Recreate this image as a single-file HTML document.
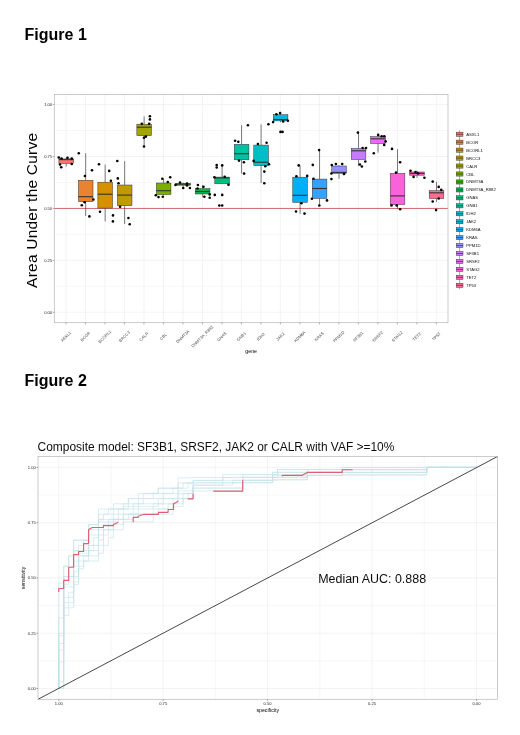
<!DOCTYPE html><html><head><meta charset="utf-8"><style>html,body{margin:0;padding:0;background:#fff;}svg{display:block;will-change:transform;}text{font-family:"Liberation Sans",sans-serif;}</style></head><body>
<svg width="520" height="735" viewBox="0 0 520 735">
<rect width="520" height="735" fill="#fff"/>
<text x="24.6" y="39.5" font-size="16" font-weight="bold" fill="#000">Figure 1</text>
<text x="24.6" y="385.7" font-size="16" font-weight="bold" fill="#000">Figure 2</text>
<line x1="54.3" x2="448.0" y1="312.30" y2="312.30" stroke="#ebebeb" stroke-width="0.6"/><line x1="54.3" x2="448.0" y1="260.38" y2="260.38" stroke="#ebebeb" stroke-width="0.6"/><line x1="54.3" x2="448.0" y1="208.45" y2="208.45" stroke="#ebebeb" stroke-width="0.6"/><line x1="54.3" x2="448.0" y1="156.53" y2="156.53" stroke="#ebebeb" stroke-width="0.6"/><line x1="54.3" x2="448.0" y1="104.60" y2="104.60" stroke="#ebebeb" stroke-width="0.6"/><line x1="54.3" x2="448.0" y1="286.34" y2="286.34" stroke="#efefef" stroke-width="0.5"/><line x1="54.3" x2="448.0" y1="234.41" y2="234.41" stroke="#efefef" stroke-width="0.5"/><line x1="54.3" x2="448.0" y1="182.49" y2="182.49" stroke="#efefef" stroke-width="0.5"/><line x1="54.3" x2="448.0" y1="130.56" y2="130.56" stroke="#efefef" stroke-width="0.5"/><line x1="65.99" x2="65.99" y1="94.5" y2="322.7" stroke="#ebebeb" stroke-width="0.6"/><line x1="85.48" x2="85.48" y1="94.5" y2="322.7" stroke="#ebebeb" stroke-width="0.6"/><line x1="104.97" x2="104.97" y1="94.5" y2="322.7" stroke="#ebebeb" stroke-width="0.6"/><line x1="124.46" x2="124.46" y1="94.5" y2="322.7" stroke="#ebebeb" stroke-width="0.6"/><line x1="143.95" x2="143.95" y1="94.5" y2="322.7" stroke="#ebebeb" stroke-width="0.6"/><line x1="163.44" x2="163.44" y1="94.5" y2="322.7" stroke="#ebebeb" stroke-width="0.6"/><line x1="182.93" x2="182.93" y1="94.5" y2="322.7" stroke="#ebebeb" stroke-width="0.6"/><line x1="202.42" x2="202.42" y1="94.5" y2="322.7" stroke="#ebebeb" stroke-width="0.6"/><line x1="221.91" x2="221.91" y1="94.5" y2="322.7" stroke="#ebebeb" stroke-width="0.6"/><line x1="241.40" x2="241.40" y1="94.5" y2="322.7" stroke="#ebebeb" stroke-width="0.6"/><line x1="260.90" x2="260.90" y1="94.5" y2="322.7" stroke="#ebebeb" stroke-width="0.6"/><line x1="280.39" x2="280.39" y1="94.5" y2="322.7" stroke="#ebebeb" stroke-width="0.6"/><line x1="299.88" x2="299.88" y1="94.5" y2="322.7" stroke="#ebebeb" stroke-width="0.6"/><line x1="319.37" x2="319.37" y1="94.5" y2="322.7" stroke="#ebebeb" stroke-width="0.6"/><line x1="338.86" x2="338.86" y1="94.5" y2="322.7" stroke="#ebebeb" stroke-width="0.6"/><line x1="358.35" x2="358.35" y1="94.5" y2="322.7" stroke="#ebebeb" stroke-width="0.6"/><line x1="377.84" x2="377.84" y1="94.5" y2="322.7" stroke="#ebebeb" stroke-width="0.6"/><line x1="397.33" x2="397.33" y1="94.5" y2="322.7" stroke="#ebebeb" stroke-width="0.6"/><line x1="416.82" x2="416.82" y1="94.5" y2="322.7" stroke="#ebebeb" stroke-width="0.6"/><line x1="436.31" x2="436.31" y1="94.5" y2="322.7" stroke="#ebebeb" stroke-width="0.6"/>
<line x1="54.3" x2="448.0" y1="208.45" y2="208.45" stroke="#d25a5a" stroke-width="0.9"/>
<line x1="66.19" x2="66.19" y1="157.6" y2="158.9" stroke="#333" stroke-width="0.65"/><line x1="66.19" x2="66.19" y1="163.4" y2="166.5" stroke="#333" stroke-width="0.65"/><rect x="58.89" y="158.9" width="14.62" height="4.50" fill="#F8766D" stroke="#333" stroke-width="0.5"/><line x1="58.89" x2="73.50" y1="159.6" y2="159.6" stroke="#333" stroke-width="1.1"/><circle cx="58.75" cy="157.5" r="1.3" fill="#000"/><circle cx="67.5" cy="157.75" r="1.3" fill="#000"/><circle cx="71.75" cy="158.5" r="1.3" fill="#000"/><circle cx="60" cy="164.5" r="1.3" fill="#000"/><circle cx="61.25" cy="167.25" r="1.3" fill="#000"/><circle cx="71.75" cy="164" r="1.3" fill="#000"/><circle cx="61.5" cy="158.5" r="1.3" fill="#000"/>
<line x1="85.68" x2="85.68" y1="153.2" y2="180.3" stroke="#333" stroke-width="0.65"/><line x1="85.68" x2="85.68" y1="201.7" y2="216.0" stroke="#333" stroke-width="0.65"/><rect x="78.38" y="180.3" width="14.62" height="21.40" fill="#EA8331" stroke="#333" stroke-width="0.5"/><line x1="78.38" x2="92.99" y1="196.7" y2="196.7" stroke="#333" stroke-width="1.1"/><circle cx="78.8" cy="153.2" r="1.3" fill="#000"/><circle cx="84.9" cy="176" r="1.3" fill="#000"/><circle cx="92" cy="170.3" r="1.3" fill="#000"/><circle cx="93.4" cy="199.5" r="1.3" fill="#000"/><circle cx="84.6" cy="202.3" r="1.3" fill="#000"/><circle cx="81.8" cy="205.3" r="1.3" fill="#000"/><circle cx="89.4" cy="216.4" r="1.3" fill="#000"/>
<line x1="105.17" x2="105.17" y1="164.5" y2="182.2" stroke="#333" stroke-width="0.65"/><line x1="105.17" x2="105.17" y1="208.1" y2="221.4" stroke="#333" stroke-width="0.65"/><rect x="97.87" y="182.2" width="14.62" height="25.90" fill="#D89000" stroke="#333" stroke-width="0.5"/><line x1="97.87" x2="112.48" y1="194.2" y2="194.2" stroke="#333" stroke-width="1.1"/><circle cx="99" cy="164.3" r="1.3" fill="#000"/><circle cx="109.2" cy="170.9" r="1.3" fill="#000"/><circle cx="110.9" cy="180.7" r="1.3" fill="#000"/><circle cx="100" cy="211.8" r="1.3" fill="#000"/><circle cx="113" cy="215.4" r="1.3" fill="#000"/><circle cx="112.9" cy="221.4" r="1.3" fill="#000"/>
<line x1="124.66" x2="124.66" y1="161.2" y2="185.0" stroke="#333" stroke-width="0.65"/><line x1="124.66" x2="124.66" y1="205.7" y2="224.0" stroke="#333" stroke-width="0.65"/><rect x="117.36" y="185.0" width="14.62" height="20.70" fill="#C09B00" stroke="#333" stroke-width="0.5"/><line x1="117.36" x2="131.97" y1="195.1" y2="195.1" stroke="#333" stroke-width="1.1"/><circle cx="117.3" cy="161" r="1.3" fill="#000"/><circle cx="117.8" cy="178.4" r="1.3" fill="#000"/><circle cx="118.5" cy="183.3" r="1.3" fill="#000"/><circle cx="120.1" cy="206.8" r="1.3" fill="#000"/><circle cx="128.4" cy="218" r="1.3" fill="#000"/><circle cx="129.7" cy="224.3" r="1.3" fill="#000"/>
<line x1="144.15" x2="144.15" y1="116.4" y2="124.2" stroke="#333" stroke-width="0.65"/><line x1="144.15" x2="144.15" y1="135.7" y2="146.5" stroke="#333" stroke-width="0.65"/><rect x="136.85" y="124.2" width="14.62" height="11.50" fill="#A3A500" stroke="#333" stroke-width="0.5"/><line x1="136.85" x2="151.46" y1="127.2" y2="127.2" stroke="#333" stroke-width="1.1"/><circle cx="149.9" cy="116.2" r="1.3" fill="#000"/><circle cx="149.9" cy="119.4" r="1.3" fill="#000"/><circle cx="141.8" cy="123.8" r="1.3" fill="#000"/><circle cx="149.2" cy="123.8" r="1.3" fill="#000"/><circle cx="144" cy="137.7" r="1.3" fill="#000"/><circle cx="145.9" cy="136.6" r="1.3" fill="#000"/><circle cx="144" cy="146.5" r="1.3" fill="#000"/>
<line x1="163.64" x2="163.64" y1="178.8" y2="183.0" stroke="#333" stroke-width="0.65"/><line x1="163.64" x2="163.64" y1="194.5" y2="195.2" stroke="#333" stroke-width="0.65"/><rect x="156.34" y="183.0" width="14.62" height="11.50" fill="#7CAE00" stroke="#333" stroke-width="0.5"/><line x1="156.34" x2="170.95" y1="190.7" y2="190.7" stroke="#333" stroke-width="1.1"/><circle cx="162.3" cy="178.8" r="1.3" fill="#000"/><circle cx="170.2" cy="177.2" r="1.3" fill="#000"/><circle cx="167.8" cy="182" r="1.3" fill="#000"/><circle cx="155.8" cy="195.2" r="1.3" fill="#000"/><circle cx="158.5" cy="197.1" r="1.3" fill="#000"/><circle cx="162.8" cy="196.7" r="1.3" fill="#000"/>
<line x1="183.13" x2="183.13" y1="182.5" y2="183.4" stroke="#333" stroke-width="0.65"/><line x1="183.13" x2="183.13" y1="185.2" y2="188.0" stroke="#333" stroke-width="0.65"/><rect x="175.83" y="183.4" width="14.62" height="1.80" fill="#39B600" stroke="#333" stroke-width="0.5"/><line x1="175.83" x2="190.44" y1="184.2" y2="184.2" stroke="#333" stroke-width="1.1"/><circle cx="175.5" cy="184.9" r="1.3" fill="#000"/><circle cx="180" cy="182.5" r="1.3" fill="#000"/><circle cx="183.2" cy="188" r="1.3" fill="#000"/><circle cx="187" cy="183.5" r="1.3" fill="#000"/><circle cx="187" cy="185.4" r="1.3" fill="#000"/><circle cx="189.9" cy="188" r="1.3" fill="#000"/>
<line x1="202.62" x2="202.62" y1="185.0" y2="188.7" stroke="#333" stroke-width="0.65"/><line x1="202.62" x2="202.62" y1="194.0" y2="197.3" stroke="#333" stroke-width="0.65"/><rect x="195.32" y="188.7" width="14.62" height="5.30" fill="#00BB4E" stroke="#333" stroke-width="0.5"/><line x1="195.32" x2="209.93" y1="191.5" y2="191.5" stroke="#333" stroke-width="1.1"/><circle cx="197.9" cy="185" r="1.3" fill="#000"/><circle cx="203.5" cy="186.7" r="1.3" fill="#000"/><circle cx="197.5" cy="188.5" r="1.3" fill="#000"/><circle cx="209.7" cy="194.4" r="1.3" fill="#000"/><circle cx="204.4" cy="196.8" r="1.3" fill="#000"/><circle cx="209.7" cy="197.8" r="1.3" fill="#000"/>
<line x1="222.11" x2="222.11" y1="165.4" y2="177.1" stroke="#333" stroke-width="0.65"/><line x1="222.11" x2="222.11" y1="183.8" y2="183.8" stroke="#333" stroke-width="0.65"/><rect x="214.81" y="177.1" width="14.62" height="6.70" fill="#00BF7D" stroke="#333" stroke-width="0.5"/><line x1="214.81" x2="229.42" y1="177.9" y2="177.9" stroke="#333" stroke-width="1.1"/><circle cx="216.7" cy="165.1" r="1.3" fill="#000"/><circle cx="216.7" cy="167.5" r="1.3" fill="#000"/><circle cx="222.2" cy="165.4" r="1.3" fill="#000"/><circle cx="228.5" cy="184.8" r="1.3" fill="#000"/><circle cx="214.8" cy="194.9" r="1.3" fill="#000"/><circle cx="222.2" cy="194.9" r="1.3" fill="#000"/><circle cx="219.3" cy="205.5" r="1.3" fill="#000"/><circle cx="222.2" cy="205.5" r="1.3" fill="#000"/><circle cx="214.4" cy="177.3" r="1.3" fill="#000"/><circle cx="224.7" cy="176.7" r="1.3" fill="#000"/>
<line x1="241.60" x2="241.60" y1="125.2" y2="144.3" stroke="#333" stroke-width="0.65"/><line x1="241.60" x2="241.60" y1="159.8" y2="173.6" stroke="#333" stroke-width="0.65"/><rect x="234.30" y="144.3" width="14.62" height="15.50" fill="#00C1A3" stroke="#333" stroke-width="0.5"/><line x1="234.30" x2="248.91" y1="153.7" y2="153.7" stroke="#333" stroke-width="1.1"/><circle cx="247.9" cy="125.2" r="1.3" fill="#000"/><circle cx="235.1" cy="140.7" r="1.3" fill="#000"/><circle cx="238.3" cy="141.7" r="1.3" fill="#000"/><circle cx="239" cy="160.6" r="1.3" fill="#000"/><circle cx="243.9" cy="162.2" r="1.3" fill="#000"/><circle cx="244.1" cy="173.6" r="1.3" fill="#000"/>
<line x1="261.10" x2="261.10" y1="124.5" y2="145.1" stroke="#333" stroke-width="0.65"/><line x1="261.10" x2="261.10" y1="165.6" y2="183.1" stroke="#333" stroke-width="0.65"/><rect x="253.79" y="145.1" width="14.62" height="20.50" fill="#00BFC4" stroke="#333" stroke-width="0.5"/><line x1="253.79" x2="268.40" y1="162.2" y2="162.2" stroke="#333" stroke-width="1.1"/><circle cx="268.4" cy="124.2" r="1.3" fill="#000"/><circle cx="257.9" cy="144" r="1.3" fill="#000"/><circle cx="266.6" cy="142.7" r="1.3" fill="#000"/><circle cx="253.6" cy="160.9" r="1.3" fill="#000"/><circle cx="269" cy="164.2" r="1.3" fill="#000"/><circle cx="265.3" cy="166.2" r="1.3" fill="#000"/><circle cx="264.3" cy="171.6" r="1.3" fill="#000"/><circle cx="264.3" cy="183.3" r="1.3" fill="#000"/>
<line x1="280.59" x2="280.59" y1="113.1" y2="114.7" stroke="#333" stroke-width="0.65"/><line x1="280.59" x2="280.59" y1="120.9" y2="122.1" stroke="#333" stroke-width="0.65"/><rect x="273.28" y="114.7" width="14.62" height="6.20" fill="#00BAE0" stroke="#333" stroke-width="0.5"/><line x1="273.28" x2="287.89" y1="119.5" y2="119.5" stroke="#333" stroke-width="1.1"/><circle cx="276.4" cy="114.2" r="1.3" fill="#000"/><circle cx="280.1" cy="113.1" r="1.3" fill="#000"/><circle cx="273.1" cy="122.1" r="1.3" fill="#000"/><circle cx="283.2" cy="121.4" r="1.3" fill="#000"/><circle cx="287.9" cy="120.7" r="1.3" fill="#000"/><circle cx="280.5" cy="131.9" r="1.3" fill="#000"/><circle cx="282.5" cy="131.9" r="1.3" fill="#000"/>
<line x1="300.08" x2="300.08" y1="165.4" y2="177.2" stroke="#333" stroke-width="0.65"/><line x1="300.08" x2="300.08" y1="202.4" y2="213.8" stroke="#333" stroke-width="0.65"/><rect x="292.77" y="177.2" width="14.62" height="25.20" fill="#00B0F6" stroke="#333" stroke-width="0.5"/><line x1="292.77" x2="307.38" y1="195.3" y2="195.3" stroke="#333" stroke-width="1.1"/><circle cx="298.7" cy="165.4" r="1.3" fill="#000"/><circle cx="296.4" cy="176.2" r="1.3" fill="#000"/><circle cx="307.2" cy="175.9" r="1.3" fill="#000"/><circle cx="301.4" cy="203.3" r="1.3" fill="#000"/><circle cx="296" cy="211.5" r="1.3" fill="#000"/><circle cx="304.5" cy="213.6" r="1.3" fill="#000"/>
<line x1="319.57" x2="319.57" y1="150.1" y2="179.1" stroke="#333" stroke-width="0.65"/><line x1="319.57" x2="319.57" y1="198.4" y2="205.5" stroke="#333" stroke-width="0.65"/><rect x="312.26" y="179.1" width="14.62" height="19.30" fill="#35A2FF" stroke="#333" stroke-width="0.5"/><line x1="312.26" x2="326.87" y1="188.5" y2="188.5" stroke="#333" stroke-width="1.1"/><circle cx="319.1" cy="150.1" r="1.3" fill="#000"/><circle cx="312.8" cy="164.9" r="1.3" fill="#000"/><circle cx="313.5" cy="178.8" r="1.3" fill="#000"/><circle cx="311.9" cy="198.8" r="1.3" fill="#000"/><circle cx="327" cy="200.4" r="1.3" fill="#000"/><circle cx="319.3" cy="205.5" r="1.3" fill="#000"/>
<line x1="339.06" x2="339.06" y1="165.0" y2="166.0" stroke="#333" stroke-width="0.65"/><line x1="339.06" x2="339.06" y1="173.5" y2="178.8" stroke="#333" stroke-width="0.65"/><rect x="331.75" y="166.0" width="14.62" height="7.50" fill="#9590FF" stroke="#333" stroke-width="0.5"/><line x1="331.75" x2="346.36" y1="172.4" y2="172.4" stroke="#333" stroke-width="1.1"/><circle cx="331.8" cy="165" r="1.3" fill="#000"/><circle cx="335.9" cy="164" r="1.3" fill="#000"/><circle cx="342.2" cy="164" r="1.3" fill="#000"/><circle cx="331.4" cy="173.5" r="1.3" fill="#000"/><circle cx="344" cy="173.9" r="1.3" fill="#000"/><circle cx="331.4" cy="179.1" r="1.3" fill="#000"/>
<line x1="358.55" x2="358.55" y1="132.6" y2="148.4" stroke="#333" stroke-width="0.65"/><line x1="358.55" x2="358.55" y1="159.5" y2="166.0" stroke="#333" stroke-width="0.65"/><rect x="351.24" y="148.4" width="14.62" height="11.10" fill="#C77CFF" stroke="#333" stroke-width="0.5"/><line x1="351.24" x2="365.85" y1="150.8" y2="150.8" stroke="#333" stroke-width="1.1"/><circle cx="357.9" cy="132.6" r="1.3" fill="#000"/><circle cx="362.6" cy="148" r="1.3" fill="#000"/><circle cx="366" cy="148" r="1.3" fill="#000"/><circle cx="365.3" cy="161.5" r="1.3" fill="#000"/><circle cx="359.9" cy="164.5" r="1.3" fill="#000"/><circle cx="361.9" cy="166.5" r="1.3" fill="#000"/>
<line x1="378.04" x2="378.04" y1="134.9" y2="136.6" stroke="#333" stroke-width="0.65"/><line x1="378.04" x2="378.04" y1="143.5" y2="152.7" stroke="#333" stroke-width="0.65"/><rect x="370.73" y="136.6" width="14.62" height="6.90" fill="#E76BF3" stroke="#333" stroke-width="0.5"/><line x1="370.73" x2="385.34" y1="138.8" y2="138.8" stroke="#333" stroke-width="1.1"/><circle cx="378.2" cy="134.9" r="1.3" fill="#000"/><circle cx="381.6" cy="136.2" r="1.3" fill="#000"/><circle cx="384.2" cy="136.2" r="1.3" fill="#000"/><circle cx="385.6" cy="141.4" r="1.3" fill="#000"/><circle cx="384.2" cy="144.9" r="1.3" fill="#000"/><circle cx="373.8" cy="153.2" r="1.3" fill="#000"/>
<line x1="397.53" x2="397.53" y1="149.2" y2="173.4" stroke="#333" stroke-width="0.65"/><line x1="397.53" x2="397.53" y1="204.6" y2="208.9" stroke="#333" stroke-width="0.65"/><rect x="390.22" y="173.4" width="14.62" height="31.20" fill="#FA62DB" stroke="#333" stroke-width="0.5"/><line x1="390.22" x2="404.83" y1="195.9" y2="195.9" stroke="#333" stroke-width="1.1"/><circle cx="392" cy="148.9" r="1.3" fill="#000"/><circle cx="400.1" cy="162.2" r="1.3" fill="#000"/><circle cx="396" cy="172.6" r="1.3" fill="#000"/><circle cx="391.5" cy="205.4" r="1.3" fill="#000"/><circle cx="396.7" cy="205.4" r="1.3" fill="#000"/><circle cx="400.1" cy="209.3" r="1.3" fill="#000"/>
<line x1="417.02" x2="417.02" y1="170.8" y2="172.0" stroke="#333" stroke-width="0.65"/><line x1="417.02" x2="417.02" y1="175.2" y2="177.8" stroke="#333" stroke-width="0.65"/><rect x="409.71" y="172.0" width="14.62" height="3.20" fill="#FF62BC" stroke="#333" stroke-width="0.5"/><line x1="409.71" x2="424.32" y1="173.4" y2="173.4" stroke="#333" stroke-width="1.1"/><circle cx="410.5" cy="170.8" r="1.3" fill="#000"/><circle cx="413.6" cy="176.9" r="1.3" fill="#000"/><circle cx="418" cy="173.4" r="1.3" fill="#000"/><circle cx="424.4" cy="177.8" r="1.3" fill="#000"/><circle cx="415.5" cy="172" r="1.3" fill="#000"/>
<line x1="436.51" x2="436.51" y1="181.7" y2="190.7" stroke="#333" stroke-width="0.65"/><line x1="436.51" x2="436.51" y1="198.5" y2="202.0" stroke="#333" stroke-width="0.65"/><rect x="429.20" y="190.7" width="14.62" height="7.80" fill="#FF6C91" stroke="#333" stroke-width="0.5"/><line x1="429.20" x2="443.81" y1="192.8" y2="192.8" stroke="#333" stroke-width="1.1"/><circle cx="432.7" cy="181.6" r="1.3" fill="#000"/><circle cx="438.7" cy="186.9" r="1.3" fill="#000"/><circle cx="441.3" cy="189.9" r="1.3" fill="#000"/><circle cx="432.7" cy="201.5" r="1.3" fill="#000"/><circle cx="436.1" cy="210.1" r="1.3" fill="#000"/><circle cx="438.7" cy="198.5" r="1.3" fill="#000"/>
<rect x="54.3" y="94.5" width="393.70" height="228.20" fill="none" stroke="#b5b5b5" stroke-width="0.7"/>
<line x1="52.699999999999996" x2="54.3" y1="312.30" y2="312.30" stroke="#555" stroke-width="0.5"/><text x="52.099999999999994" y="313.75" font-size="4.1" fill="#2a2a2a" text-anchor="end">0.00</text><line x1="52.699999999999996" x2="54.3" y1="260.38" y2="260.38" stroke="#555" stroke-width="0.5"/><text x="52.099999999999994" y="261.82" font-size="4.1" fill="#2a2a2a" text-anchor="end">0.25</text><line x1="52.699999999999996" x2="54.3" y1="208.45" y2="208.45" stroke="#555" stroke-width="0.5"/><text x="52.099999999999994" y="209.90" font-size="4.1" fill="#2a2a2a" text-anchor="end">0.50</text><line x1="52.699999999999996" x2="54.3" y1="156.53" y2="156.53" stroke="#555" stroke-width="0.5"/><text x="52.099999999999994" y="157.98" font-size="4.1" fill="#2a2a2a" text-anchor="end">0.75</text><line x1="52.699999999999996" x2="54.3" y1="104.60" y2="104.60" stroke="#555" stroke-width="0.5"/><text x="52.099999999999994" y="106.05" font-size="4.1" fill="#2a2a2a" text-anchor="end">1.00</text><line x1="65.99" x2="65.99" y1="322.7" y2="324.3" stroke="#555" stroke-width="0.5"/><text transform="translate(66.89,337.60) rotate(-45)" font-size="4.1" fill="#4a4a4a" text-anchor="middle">ASXL1</text><line x1="85.48" x2="85.48" y1="322.7" y2="324.3" stroke="#555" stroke-width="0.5"/><text transform="translate(86.38,337.60) rotate(-45)" font-size="4.1" fill="#4a4a4a" text-anchor="middle">BCOR</text><line x1="104.97" x2="104.97" y1="322.7" y2="324.3" stroke="#555" stroke-width="0.5"/><text transform="translate(105.87,337.60) rotate(-45)" font-size="4.1" fill="#4a4a4a" text-anchor="middle">BCORL1</text><line x1="124.46" x2="124.46" y1="322.7" y2="324.3" stroke="#555" stroke-width="0.5"/><text transform="translate(125.36,337.60) rotate(-45)" font-size="4.1" fill="#4a4a4a" text-anchor="middle">BRCC3</text><line x1="143.95" x2="143.95" y1="322.7" y2="324.3" stroke="#555" stroke-width="0.5"/><text transform="translate(144.85,337.60) rotate(-45)" font-size="4.1" fill="#4a4a4a" text-anchor="middle">CALR</text><line x1="163.44" x2="163.44" y1="322.7" y2="324.3" stroke="#555" stroke-width="0.5"/><text transform="translate(164.34,337.60) rotate(-45)" font-size="4.1" fill="#4a4a4a" text-anchor="middle">CBL</text><line x1="182.93" x2="182.93" y1="322.7" y2="324.3" stroke="#555" stroke-width="0.5"/><text transform="translate(183.83,337.60) rotate(-45)" font-size="4.1" fill="#4a4a4a" text-anchor="middle">DNMT3A</text><line x1="202.42" x2="202.42" y1="322.7" y2="324.3" stroke="#555" stroke-width="0.5"/><text transform="translate(203.32,337.60) rotate(-45)" font-size="4.1" fill="#4a4a4a" text-anchor="middle">DNMT3A_R882</text><line x1="221.91" x2="221.91" y1="322.7" y2="324.3" stroke="#555" stroke-width="0.5"/><text transform="translate(222.81,337.60) rotate(-45)" font-size="4.1" fill="#4a4a4a" text-anchor="middle">GNAS</text><line x1="241.40" x2="241.40" y1="322.7" y2="324.3" stroke="#555" stroke-width="0.5"/><text transform="translate(242.30,337.60) rotate(-45)" font-size="4.1" fill="#4a4a4a" text-anchor="middle">GNB1</text><line x1="260.90" x2="260.90" y1="322.7" y2="324.3" stroke="#555" stroke-width="0.5"/><text transform="translate(261.80,337.60) rotate(-45)" font-size="4.1" fill="#4a4a4a" text-anchor="middle">IDH2</text><line x1="280.39" x2="280.39" y1="322.7" y2="324.3" stroke="#555" stroke-width="0.5"/><text transform="translate(281.29,337.60) rotate(-45)" font-size="4.1" fill="#4a4a4a" text-anchor="middle">JAK2</text><line x1="299.88" x2="299.88" y1="322.7" y2="324.3" stroke="#555" stroke-width="0.5"/><text transform="translate(300.78,337.60) rotate(-45)" font-size="4.1" fill="#4a4a4a" text-anchor="middle">KDM6A</text><line x1="319.37" x2="319.37" y1="322.7" y2="324.3" stroke="#555" stroke-width="0.5"/><text transform="translate(320.27,337.60) rotate(-45)" font-size="4.1" fill="#4a4a4a" text-anchor="middle">KRAS</text><line x1="338.86" x2="338.86" y1="322.7" y2="324.3" stroke="#555" stroke-width="0.5"/><text transform="translate(339.76,337.60) rotate(-45)" font-size="4.1" fill="#4a4a4a" text-anchor="middle">PPM1D</text><line x1="358.35" x2="358.35" y1="322.7" y2="324.3" stroke="#555" stroke-width="0.5"/><text transform="translate(359.25,337.60) rotate(-45)" font-size="4.1" fill="#4a4a4a" text-anchor="middle">SF3B1</text><line x1="377.84" x2="377.84" y1="322.7" y2="324.3" stroke="#555" stroke-width="0.5"/><text transform="translate(378.74,337.60) rotate(-45)" font-size="4.1" fill="#4a4a4a" text-anchor="middle">SRSF2</text><line x1="397.33" x2="397.33" y1="322.7" y2="324.3" stroke="#555" stroke-width="0.5"/><text transform="translate(398.23,337.60) rotate(-45)" font-size="4.1" fill="#4a4a4a" text-anchor="middle">STAG2</text><line x1="416.82" x2="416.82" y1="322.7" y2="324.3" stroke="#555" stroke-width="0.5"/><text transform="translate(417.72,337.60) rotate(-45)" font-size="4.1" fill="#4a4a4a" text-anchor="middle">TET2</text><line x1="436.31" x2="436.31" y1="322.7" y2="324.3" stroke="#555" stroke-width="0.5"/><text transform="translate(437.21,337.60) rotate(-45)" font-size="4.1" fill="#4a4a4a" text-anchor="middle">TP53</text>
<text x="251.15" y="353.4" font-size="5.3" fill="#000" text-anchor="middle">gene</text>
<text transform="translate(37.2,210.3) rotate(-90)" font-size="15.5" letter-spacing="0.22" fill="#000" text-anchor="middle">Area Under the Curve</text>
<line x1="459.6" x2="459.6" y1="130.35" y2="138.15" stroke="#333" stroke-width="0.45"/><rect x="456.3" y="132.15" width="6.7" height="4.2" fill="#F8766D" stroke="#333" stroke-width="0.45"/><line x1="456.3" x2="463.0" y1="134.25" y2="134.25" stroke="#333" stroke-width="0.7"/><text x="466.2" y="135.75" font-size="4.2" fill="#111">ASXL1</text><line x1="459.6" x2="459.6" y1="138.30" y2="146.10" stroke="#333" stroke-width="0.45"/><rect x="456.3" y="140.10" width="6.7" height="4.2" fill="#EA8331" stroke="#333" stroke-width="0.45"/><line x1="456.3" x2="463.0" y1="142.20" y2="142.20" stroke="#333" stroke-width="0.7"/><text x="466.2" y="143.70" font-size="4.2" fill="#111">BCOR</text><line x1="459.6" x2="459.6" y1="146.25" y2="154.05" stroke="#333" stroke-width="0.45"/><rect x="456.3" y="148.05" width="6.7" height="4.2" fill="#D89000" stroke="#333" stroke-width="0.45"/><line x1="456.3" x2="463.0" y1="150.15" y2="150.15" stroke="#333" stroke-width="0.7"/><text x="466.2" y="151.65" font-size="4.2" fill="#111">BCORL1</text><line x1="459.6" x2="459.6" y1="154.20" y2="162.00" stroke="#333" stroke-width="0.45"/><rect x="456.3" y="156.00" width="6.7" height="4.2" fill="#C09B00" stroke="#333" stroke-width="0.45"/><line x1="456.3" x2="463.0" y1="158.10" y2="158.10" stroke="#333" stroke-width="0.7"/><text x="466.2" y="159.60" font-size="4.2" fill="#111">BRCC3</text><line x1="459.6" x2="459.6" y1="162.15" y2="169.95" stroke="#333" stroke-width="0.45"/><rect x="456.3" y="163.95" width="6.7" height="4.2" fill="#A3A500" stroke="#333" stroke-width="0.45"/><line x1="456.3" x2="463.0" y1="166.05" y2="166.05" stroke="#333" stroke-width="0.7"/><text x="466.2" y="167.55" font-size="4.2" fill="#111">CALR</text><line x1="459.6" x2="459.6" y1="170.10" y2="177.90" stroke="#333" stroke-width="0.45"/><rect x="456.3" y="171.90" width="6.7" height="4.2" fill="#7CAE00" stroke="#333" stroke-width="0.45"/><line x1="456.3" x2="463.0" y1="174.00" y2="174.00" stroke="#333" stroke-width="0.7"/><text x="466.2" y="175.50" font-size="4.2" fill="#111">CBL</text><line x1="459.6" x2="459.6" y1="178.05" y2="185.85" stroke="#333" stroke-width="0.45"/><rect x="456.3" y="179.85" width="6.7" height="4.2" fill="#39B600" stroke="#333" stroke-width="0.45"/><line x1="456.3" x2="463.0" y1="181.95" y2="181.95" stroke="#333" stroke-width="0.7"/><text x="466.2" y="183.45" font-size="4.2" fill="#111">DNMT3A</text><line x1="459.6" x2="459.6" y1="186.00" y2="193.80" stroke="#333" stroke-width="0.45"/><rect x="456.3" y="187.80" width="6.7" height="4.2" fill="#00BB4E" stroke="#333" stroke-width="0.45"/><line x1="456.3" x2="463.0" y1="189.90" y2="189.90" stroke="#333" stroke-width="0.7"/><text x="466.2" y="191.40" font-size="4.2" fill="#111">DNMT3A_R882</text><line x1="459.6" x2="459.6" y1="193.95" y2="201.75" stroke="#333" stroke-width="0.45"/><rect x="456.3" y="195.75" width="6.7" height="4.2" fill="#00BF7D" stroke="#333" stroke-width="0.45"/><line x1="456.3" x2="463.0" y1="197.85" y2="197.85" stroke="#333" stroke-width="0.7"/><text x="466.2" y="199.35" font-size="4.2" fill="#111">GNAS</text><line x1="459.6" x2="459.6" y1="201.90" y2="209.70" stroke="#333" stroke-width="0.45"/><rect x="456.3" y="203.70" width="6.7" height="4.2" fill="#00C1A3" stroke="#333" stroke-width="0.45"/><line x1="456.3" x2="463.0" y1="205.80" y2="205.80" stroke="#333" stroke-width="0.7"/><text x="466.2" y="207.30" font-size="4.2" fill="#111">GNB1</text><line x1="459.6" x2="459.6" y1="209.85" y2="217.65" stroke="#333" stroke-width="0.45"/><rect x="456.3" y="211.65" width="6.7" height="4.2" fill="#00BFC4" stroke="#333" stroke-width="0.45"/><line x1="456.3" x2="463.0" y1="213.75" y2="213.75" stroke="#333" stroke-width="0.7"/><text x="466.2" y="215.25" font-size="4.2" fill="#111">IDH2</text><line x1="459.6" x2="459.6" y1="217.80" y2="225.60" stroke="#333" stroke-width="0.45"/><rect x="456.3" y="219.60" width="6.7" height="4.2" fill="#00BAE0" stroke="#333" stroke-width="0.45"/><line x1="456.3" x2="463.0" y1="221.70" y2="221.70" stroke="#333" stroke-width="0.7"/><text x="466.2" y="223.20" font-size="4.2" fill="#111">JAK2</text><line x1="459.6" x2="459.6" y1="225.75" y2="233.55" stroke="#333" stroke-width="0.45"/><rect x="456.3" y="227.55" width="6.7" height="4.2" fill="#00B0F6" stroke="#333" stroke-width="0.45"/><line x1="456.3" x2="463.0" y1="229.65" y2="229.65" stroke="#333" stroke-width="0.7"/><text x="466.2" y="231.15" font-size="4.2" fill="#111">KDM6A</text><line x1="459.6" x2="459.6" y1="233.70" y2="241.50" stroke="#333" stroke-width="0.45"/><rect x="456.3" y="235.50" width="6.7" height="4.2" fill="#35A2FF" stroke="#333" stroke-width="0.45"/><line x1="456.3" x2="463.0" y1="237.60" y2="237.60" stroke="#333" stroke-width="0.7"/><text x="466.2" y="239.10" font-size="4.2" fill="#111">KRAS</text><line x1="459.6" x2="459.6" y1="241.65" y2="249.45" stroke="#333" stroke-width="0.45"/><rect x="456.3" y="243.45" width="6.7" height="4.2" fill="#9590FF" stroke="#333" stroke-width="0.45"/><line x1="456.3" x2="463.0" y1="245.55" y2="245.55" stroke="#333" stroke-width="0.7"/><text x="466.2" y="247.05" font-size="4.2" fill="#111">PPM1D</text><line x1="459.6" x2="459.6" y1="249.60" y2="257.40" stroke="#333" stroke-width="0.45"/><rect x="456.3" y="251.40" width="6.7" height="4.2" fill="#C77CFF" stroke="#333" stroke-width="0.45"/><line x1="456.3" x2="463.0" y1="253.50" y2="253.50" stroke="#333" stroke-width="0.7"/><text x="466.2" y="255.00" font-size="4.2" fill="#111">SF3B1</text><line x1="459.6" x2="459.6" y1="257.55" y2="265.35" stroke="#333" stroke-width="0.45"/><rect x="456.3" y="259.35" width="6.7" height="4.2" fill="#E76BF3" stroke="#333" stroke-width="0.45"/><line x1="456.3" x2="463.0" y1="261.45" y2="261.45" stroke="#333" stroke-width="0.7"/><text x="466.2" y="262.95" font-size="4.2" fill="#111">SRSF2</text><line x1="459.6" x2="459.6" y1="265.50" y2="273.30" stroke="#333" stroke-width="0.45"/><rect x="456.3" y="267.30" width="6.7" height="4.2" fill="#FA62DB" stroke="#333" stroke-width="0.45"/><line x1="456.3" x2="463.0" y1="269.40" y2="269.40" stroke="#333" stroke-width="0.7"/><text x="466.2" y="270.90" font-size="4.2" fill="#111">STAG2</text><line x1="459.6" x2="459.6" y1="273.45" y2="281.25" stroke="#333" stroke-width="0.45"/><rect x="456.3" y="275.25" width="6.7" height="4.2" fill="#FF62BC" stroke="#333" stroke-width="0.45"/><line x1="456.3" x2="463.0" y1="277.35" y2="277.35" stroke="#333" stroke-width="0.7"/><text x="466.2" y="278.85" font-size="4.2" fill="#111">TET2</text><line x1="459.6" x2="459.6" y1="281.40" y2="289.20" stroke="#333" stroke-width="0.45"/><rect x="456.3" y="283.20" width="6.7" height="4.2" fill="#FF6C91" stroke="#333" stroke-width="0.45"/><line x1="456.3" x2="463.0" y1="285.30" y2="285.30" stroke="#333" stroke-width="0.7"/><text x="466.2" y="286.80" font-size="4.2" fill="#111">TP53</text>
<text x="37.6" y="451.0" font-size="11.95" fill="#0d0d0d">Composite model: SF3B1, SRSF2, JAK2 or CALR with VAF &gt;=10%</text>
<line x1="38.0" x2="497.5" y1="688.50" y2="688.50" stroke="#ebebeb" stroke-width="0.6"/><line x1="476.45" x2="476.45" y1="456.5" y2="699.3" stroke="#ebebeb" stroke-width="0.6"/><line x1="38.0" x2="497.5" y1="633.23" y2="633.23" stroke="#ebebeb" stroke-width="0.6"/><line x1="372.02" x2="372.02" y1="456.5" y2="699.3" stroke="#ebebeb" stroke-width="0.6"/><line x1="38.0" x2="497.5" y1="577.95" y2="577.95" stroke="#ebebeb" stroke-width="0.6"/><line x1="267.60" x2="267.60" y1="456.5" y2="699.3" stroke="#ebebeb" stroke-width="0.6"/><line x1="38.0" x2="497.5" y1="522.67" y2="522.67" stroke="#ebebeb" stroke-width="0.6"/><line x1="163.18" x2="163.18" y1="456.5" y2="699.3" stroke="#ebebeb" stroke-width="0.6"/><line x1="38.0" x2="497.5" y1="467.40" y2="467.40" stroke="#ebebeb" stroke-width="0.6"/><line x1="58.75" x2="58.75" y1="456.5" y2="699.3" stroke="#ebebeb" stroke-width="0.6"/><line x1="38.0" x2="497.5" y1="660.86" y2="660.86" stroke="#efefef" stroke-width="0.5"/><line x1="424.24" x2="424.24" y1="456.5" y2="699.3" stroke="#efefef" stroke-width="0.5"/><line x1="38.0" x2="497.5" y1="605.59" y2="605.59" stroke="#efefef" stroke-width="0.5"/><line x1="319.81" x2="319.81" y1="456.5" y2="699.3" stroke="#efefef" stroke-width="0.5"/><line x1="38.0" x2="497.5" y1="550.31" y2="550.31" stroke="#efefef" stroke-width="0.5"/><line x1="215.39" x2="215.39" y1="456.5" y2="699.3" stroke="#efefef" stroke-width="0.5"/><line x1="38.0" x2="497.5" y1="495.04" y2="495.04" stroke="#efefef" stroke-width="0.5"/><line x1="110.96" x2="110.96" y1="456.5" y2="699.3" stroke="#efefef" stroke-width="0.5"/>
<g fill="none" stroke="#c3e0e8" stroke-width="0.6"><path d="M58.75,688.5V583.10H63.72V566.20H68.70V555.80H73.67V540.20H78.64H83.61H88.59V524.60H93.56H98.53V509.00H103.50H108.48H113.45V503.80H118.42H123.39H128.37V498.60H133.34H138.31V493.40H143.28H148.26H153.23H158.20V488.20H163.18H168.15H173.12H178.09V477.80H183.07H188.04H193.01V477.50H197.98H202.96H207.93H212.90H217.87H222.85V474.60H227.82H232.79H237.76H242.74H247.71H252.68H257.65H262.63H267.60H272.57V472.30H277.55V469.50H282.52H287.49H292.46H297.44H302.41H307.38H312.35H317.33H322.30H327.27H332.24H337.22H342.19V467.40H347.16H352.13H357.11H362.08H367.05H372.02H377.00H381.97H386.94H391.92H396.89H401.86H406.83H411.81H416.78H421.75H426.72H431.70H436.67H441.64H446.61H451.59H456.56H461.53H466.50H471.48H476.45"/><path d="M58.75,688.5V618.00H63.72V566.20H68.70V555.80H73.67V540.20H78.64H83.61H88.59V524.60H93.56H98.53V514.20H103.50H108.48V509.00H113.45H118.42H123.39V503.80H128.37V498.60H133.34H138.31H143.28V493.40H148.26H153.23H158.20V488.20H163.18H168.15H173.12H178.09V483.00H183.07H188.04H193.01V480.40H197.98H202.96H207.93H212.90H217.87H222.85V477.50H227.82H232.79V477.40H237.76H242.74V474.80H247.71H252.68H257.65H262.63H267.60H272.57V472.30H277.55V469.50H282.52H287.49H292.46H297.44H302.41H307.38H312.35H317.33H322.30H327.27H332.24H337.22H342.19V467.40H347.16H352.13H357.11H362.08H367.05H372.02H377.00H381.97H386.94H391.92H396.89H401.86H406.83H411.81H416.78H421.75H426.72H431.70H436.67H441.64H446.61H451.59H456.56H461.53H466.50H471.48H476.45"/><path d="M58.75,688.5V633.30H63.72V576.60H68.70V566.20H73.67V550.60H78.64V545.40H83.61V540.20H88.59V529.80H93.56H98.53V519.40H103.50V514.20H108.48H113.45V509.00H118.42H123.39H128.37V503.80H133.34H138.31V498.60H143.28H148.26H153.23V493.40H158.20H163.18H168.15H173.12V488.20H178.09H183.07V483.00H188.04H193.01V480.40H197.98H202.96H207.93H212.90H217.87H222.85V477.50H227.82H232.79V477.40H237.76H242.74H247.71H252.68H257.65H262.63H267.60H272.57V474.80H277.55V472.30H282.52H287.49H292.46H297.44H302.41H307.38V469.50H312.35H317.33H322.30H327.27H332.24H337.22H342.19H347.16H352.13H357.11H362.08H367.05H372.02H377.00H381.97H386.94H391.92H396.89H401.86H406.83H411.81H416.78H421.75H426.72V467.40H431.70H436.67H441.64H446.61H451.59H456.56H461.53H466.50H471.48H476.45"/><path d="M58.75,688.5V635.70H63.72V576.60H68.70H73.67V550.60H78.64H83.61H88.59V535.00H93.56H98.53V519.40H103.50H108.48H113.45V514.20H118.42V509.00H123.39H128.37H133.34V503.80H138.31H143.28V498.60H148.26H153.23H158.20H163.18V493.40H168.15H173.12H178.09V488.20H183.07H188.04V483.00H193.01V482.80H197.98H202.96H207.93H212.90H217.87H222.85V480.40H227.82H232.79V480.30H237.76H242.74V477.40H247.71H252.68H257.65H262.63H267.60H272.57V474.80H277.55V472.30H282.52H287.49H292.46H297.44H302.41H307.38H312.35H317.33H322.30H327.27H332.24H337.22H342.19V469.70H347.16H352.13H357.11H362.08H367.05H372.02H377.00H381.97H386.94H391.92H396.89H401.86H406.83H411.81H416.78H421.75H426.72V467.40H431.70H436.67H441.64H446.61H451.59H456.56H461.53H466.50H471.48H476.45"/><path d="M58.75,688.5V643.50H63.72V584.40H68.70V576.60H73.67V561.00H78.64V553.20H83.61H88.59V545.40H93.56V537.60H98.53V522.00H103.50H108.48H113.45H118.42V514.20H123.39V506.40H128.37H133.34H138.31H143.28H148.26H153.23H158.20V498.60H163.18H168.15H173.12H178.09V490.80H183.07H188.04H193.01V482.80H197.98H202.96H207.93H212.90H217.87H222.85H227.82H232.79V480.30H237.76H242.74V477.40H247.71H252.68H257.65H262.63H267.60H272.57V474.80H277.55H282.52H287.49H292.46H297.44H302.41H307.38V472.40H312.35H317.33H322.30H327.27H332.24H337.22H342.19V469.70H347.16H352.13H357.11H362.08H367.05H372.02H377.00H381.97H386.94H391.92H396.89H401.86H406.83H411.81H416.78H421.75H426.72V467.40H431.70H436.67H441.64H446.61H451.59H456.56H461.53H466.50H471.48H476.45"/><path d="M58.75,688.5V650.00H63.72V587.00H68.70H73.67V566.20H78.64V555.80H83.61H88.59V545.40H93.56H98.53V529.80H103.50V524.60H108.48V519.40H113.45H118.42H123.39V514.20H128.37H133.34V509.00H138.31V503.80H143.28H148.26H153.23H158.20H163.18V498.60H168.15H173.12H178.09V493.40H183.07H188.04H193.01V485.20H197.98H202.96H207.93H212.90H217.87H222.85V482.80H227.82H232.79V482.70H237.76H242.74V480.30H247.71H252.68H257.65H262.63H267.60H272.57V477.40H277.55V475.20H282.52H287.49H292.46H297.44H302.41H307.38V472.40H312.35H317.33H322.30H327.27H332.24H337.22H342.19H347.16H352.13H357.11H362.08H367.05H372.02H377.00H381.97H386.94H391.92H396.89H401.86H406.83H411.81H416.78H421.75H426.72V467.40H431.70H436.67H441.64H446.61H451.59H456.56H461.53H466.50H471.48H476.45"/><path d="M58.75,688.5V662.20H63.72V597.40H68.70V592.20H73.67V571.40H78.64V555.80H83.61H88.59V550.60H93.56V545.40H98.53V535.00H103.50V529.80H108.48V524.60H113.45V519.40H118.42H123.39H128.37V514.20H133.34H138.31V509.00H143.28H148.26H153.23V503.80H158.20H163.18H168.15H173.12V498.60H178.09H183.07V493.40H188.04H193.01V485.20H197.98H202.96H207.93H212.90H217.87H222.85H227.82H232.79V482.70H237.76H242.74V480.30H247.71H252.68H257.65H262.63H267.60H272.57V477.40H277.55V477.20H282.52H287.49H292.46H297.44H302.41H307.38V472.40H312.35H317.33H322.30H327.27H332.24H337.22H342.19H347.16H352.13H357.11H362.08H367.05H372.02H377.00H381.97H386.94H391.92H396.89H401.86H406.83H411.81H416.78H421.75H426.72V467.40H431.70H436.67H441.64H446.61H451.59H456.56H461.53H466.50H471.48H476.45"/><path d="M58.75,688.5V681.40H63.72V602.60H68.70V597.40H73.67V576.60H78.64V561.00H83.61V555.80H88.59V550.60H93.56H98.53V540.20H103.50V529.80H108.48H113.45V519.40H118.42H123.39V514.20H128.37H133.34H138.31H143.28H148.26H153.23V509.00H158.20H163.18H168.15V503.80H173.12H178.09V498.60H183.07H188.04V493.40H193.01V488.10H197.98H202.96H207.93H212.90H217.87H222.85H227.82H232.79H237.76H242.74V480.30H247.71H252.68H257.65H262.63H267.60H272.57V477.40H277.55V477.20H282.52H287.49H292.46H297.44H302.41H307.38V475.30H312.35H317.33H322.30H327.27H332.24H337.22H342.19V472.40H347.16H352.13H357.11H362.08H367.05H372.02H377.00H381.97H386.94H391.92H396.89H401.86H406.83H411.81H416.78H421.75H426.72V467.40H431.70H436.67H441.64H446.61H451.59H456.56H461.53H466.50H471.48H476.45"/><path d="M58.75,688.5H63.72V607.80H68.70V602.60H73.67V581.80H78.64V566.20H83.61V561.00H88.59V555.80H93.56H98.53V545.40H103.50V535.00H108.48V529.80H113.45V524.60H118.42H123.39V519.40H128.37H133.34V514.20H138.31H143.28H148.26H153.23H158.20V509.00H163.18H168.15H173.12V503.80H178.09H183.07V498.60H188.04H193.01V488.10H197.98H202.96H207.93H212.90H217.87H222.85H227.82H232.79H237.76H242.74V482.70H247.71H252.68H257.65H262.63H267.60H272.57V480.00H277.55V479.80H282.52H287.49H292.46H297.44H302.41H307.38V475.30H312.35H317.33H322.30H327.27H332.24H337.22H342.19V474.90H347.16H352.13H357.11H362.08H367.05H372.02H377.00H381.97H386.94H391.92H396.89H401.86H406.83H411.81H416.78H421.75H426.72V467.40H431.70H436.67H441.64H446.61H451.59H456.56H461.53H466.50H471.48H476.45"/><path d="M58.75,688.5H63.72V615.60H68.70V607.80H73.67V584.40H78.64V568.80H83.61V561.00H88.59H93.56H98.53V553.20H103.50V545.40H108.48V537.60H113.45V529.80H118.42H123.39V522.00H128.37H133.34H138.31H143.28H148.26H153.23V514.20H158.20H163.18H168.15H173.12V506.40H178.09H183.07V498.60H188.04H193.01V490.90H197.98H202.96H207.93H212.90H217.87H222.85H227.82H232.79H237.76H242.74V482.70H247.71H252.68H257.65H262.63H267.60H272.57V480.00H277.55V479.80H282.52H287.49H292.46H297.44H302.41H307.38V475.30H312.35H317.33H322.30H327.27H332.24H337.22H342.19V474.90H347.16H352.13H357.11H362.08H367.05H372.02H377.00H381.97H386.94H391.92H396.89H401.86H406.83H411.81H416.78H421.75H426.72V467.40H431.70H436.67H441.64H446.61H451.59H456.56H461.53H466.50H471.48H476.45"/></g>
<path d="M58.75,592.00 L58.75,588.50 L63.70,588.50 L63.70,580.40 L68.70,580.40 L68.70,567.20 L73.60,567.20 L73.60,554.60 L78.60,554.60 L78.60,551.50 L83.60,551.50 L83.60,543.60 L88.60,543.60 L88.60,529.80 L90.50,528.60 L92.30,527.50 L103.40,527.50 L103.40,525.60 L113.50,525.60 L113.50,524.50 L116.00,523.30 L118.40,522.30" fill="none" stroke="#de5e72" stroke-width="1.15" stroke-linejoin="round"/>
<path d="M133.20,522.30 L133.20,517.40 L138.10,517.40 L138.10,516.20 L141.00,515.20 L143.80,514.30 L158.40,514.30 L158.40,512.30 L168.10,512.30 L168.10,509.50 L173.50,509.50 L173.50,503.80 L176.50,502.20 L178.30,500.90" fill="none" stroke="#de5e72" stroke-width="1.15" stroke-linejoin="round"/>
<path d="M187.70,498.80 L193.10,498.80 L193.10,493.80" fill="none" stroke="#de5e72" stroke-width="1.15" stroke-linejoin="round"/>
<path d="M213.30,491.10 L242.70,491.10 L242.70,480.30" fill="none" stroke="#de5e72" stroke-width="1.15" stroke-linejoin="round"/>
<path d="M282.30,476.20 L282.30,475.30 L302.30,475.30 L304.80,473.80 L307.50,472.40 L342.20,472.40 L342.20,469.70 L352.50,469.70" fill="none" stroke="#de5e72" stroke-width="1.15" stroke-linejoin="round"/>
<line x1="38.0" y1="699.3" x2="497.5" y2="456.5" stroke="#333" stroke-width="0.9"/>
<rect x="38.0" y="456.5" width="459.50" height="242.80" fill="none" stroke="#b5b5b5" stroke-width="0.7"/>
<line x1="36.4" x2="38.0" y1="688.50" y2="688.50" stroke="#555" stroke-width="0.5"/><text x="35.8" y="689.95" font-size="4.1" fill="#2a2a2a" text-anchor="end">0.00</text><line x1="476.45" x2="476.45" y1="699.3" y2="700.9" stroke="#555" stroke-width="0.5"/><text x="476.45" y="705.30" font-size="4.1" fill="#2a2a2a" text-anchor="middle">0.00</text><line x1="36.4" x2="38.0" y1="633.23" y2="633.23" stroke="#555" stroke-width="0.5"/><text x="35.8" y="634.68" font-size="4.1" fill="#2a2a2a" text-anchor="end">0.25</text><line x1="372.02" x2="372.02" y1="699.3" y2="700.9" stroke="#555" stroke-width="0.5"/><text x="372.02" y="705.30" font-size="4.1" fill="#2a2a2a" text-anchor="middle">0.25</text><line x1="36.4" x2="38.0" y1="577.95" y2="577.95" stroke="#555" stroke-width="0.5"/><text x="35.8" y="579.40" font-size="4.1" fill="#2a2a2a" text-anchor="end">0.50</text><line x1="267.60" x2="267.60" y1="699.3" y2="700.9" stroke="#555" stroke-width="0.5"/><text x="267.60" y="705.30" font-size="4.1" fill="#2a2a2a" text-anchor="middle">0.50</text><line x1="36.4" x2="38.0" y1="522.67" y2="522.67" stroke="#555" stroke-width="0.5"/><text x="35.8" y="524.12" font-size="4.1" fill="#2a2a2a" text-anchor="end">0.75</text><line x1="163.18" x2="163.18" y1="699.3" y2="700.9" stroke="#555" stroke-width="0.5"/><text x="163.18" y="705.30" font-size="4.1" fill="#2a2a2a" text-anchor="middle">0.75</text><line x1="36.4" x2="38.0" y1="467.40" y2="467.40" stroke="#555" stroke-width="0.5"/><text x="35.8" y="468.85" font-size="4.1" fill="#2a2a2a" text-anchor="end">1.00</text><line x1="58.75" x2="58.75" y1="699.3" y2="700.9" stroke="#555" stroke-width="0.5"/><text x="58.75" y="705.30" font-size="4.1" fill="#2a2a2a" text-anchor="middle">1.00</text>
<text x="267.75" y="711.6" font-size="5.2" fill="#000" text-anchor="middle">specificity</text>
<text transform="translate(24.9,577.90) rotate(-90)" font-size="5.2" fill="#000" text-anchor="middle">sensitivity</text>
<text x="318.2" y="583.0" font-size="12.45" fill="#0d0d0d">Median AUC: 0.888</text>
</svg></body></html>
